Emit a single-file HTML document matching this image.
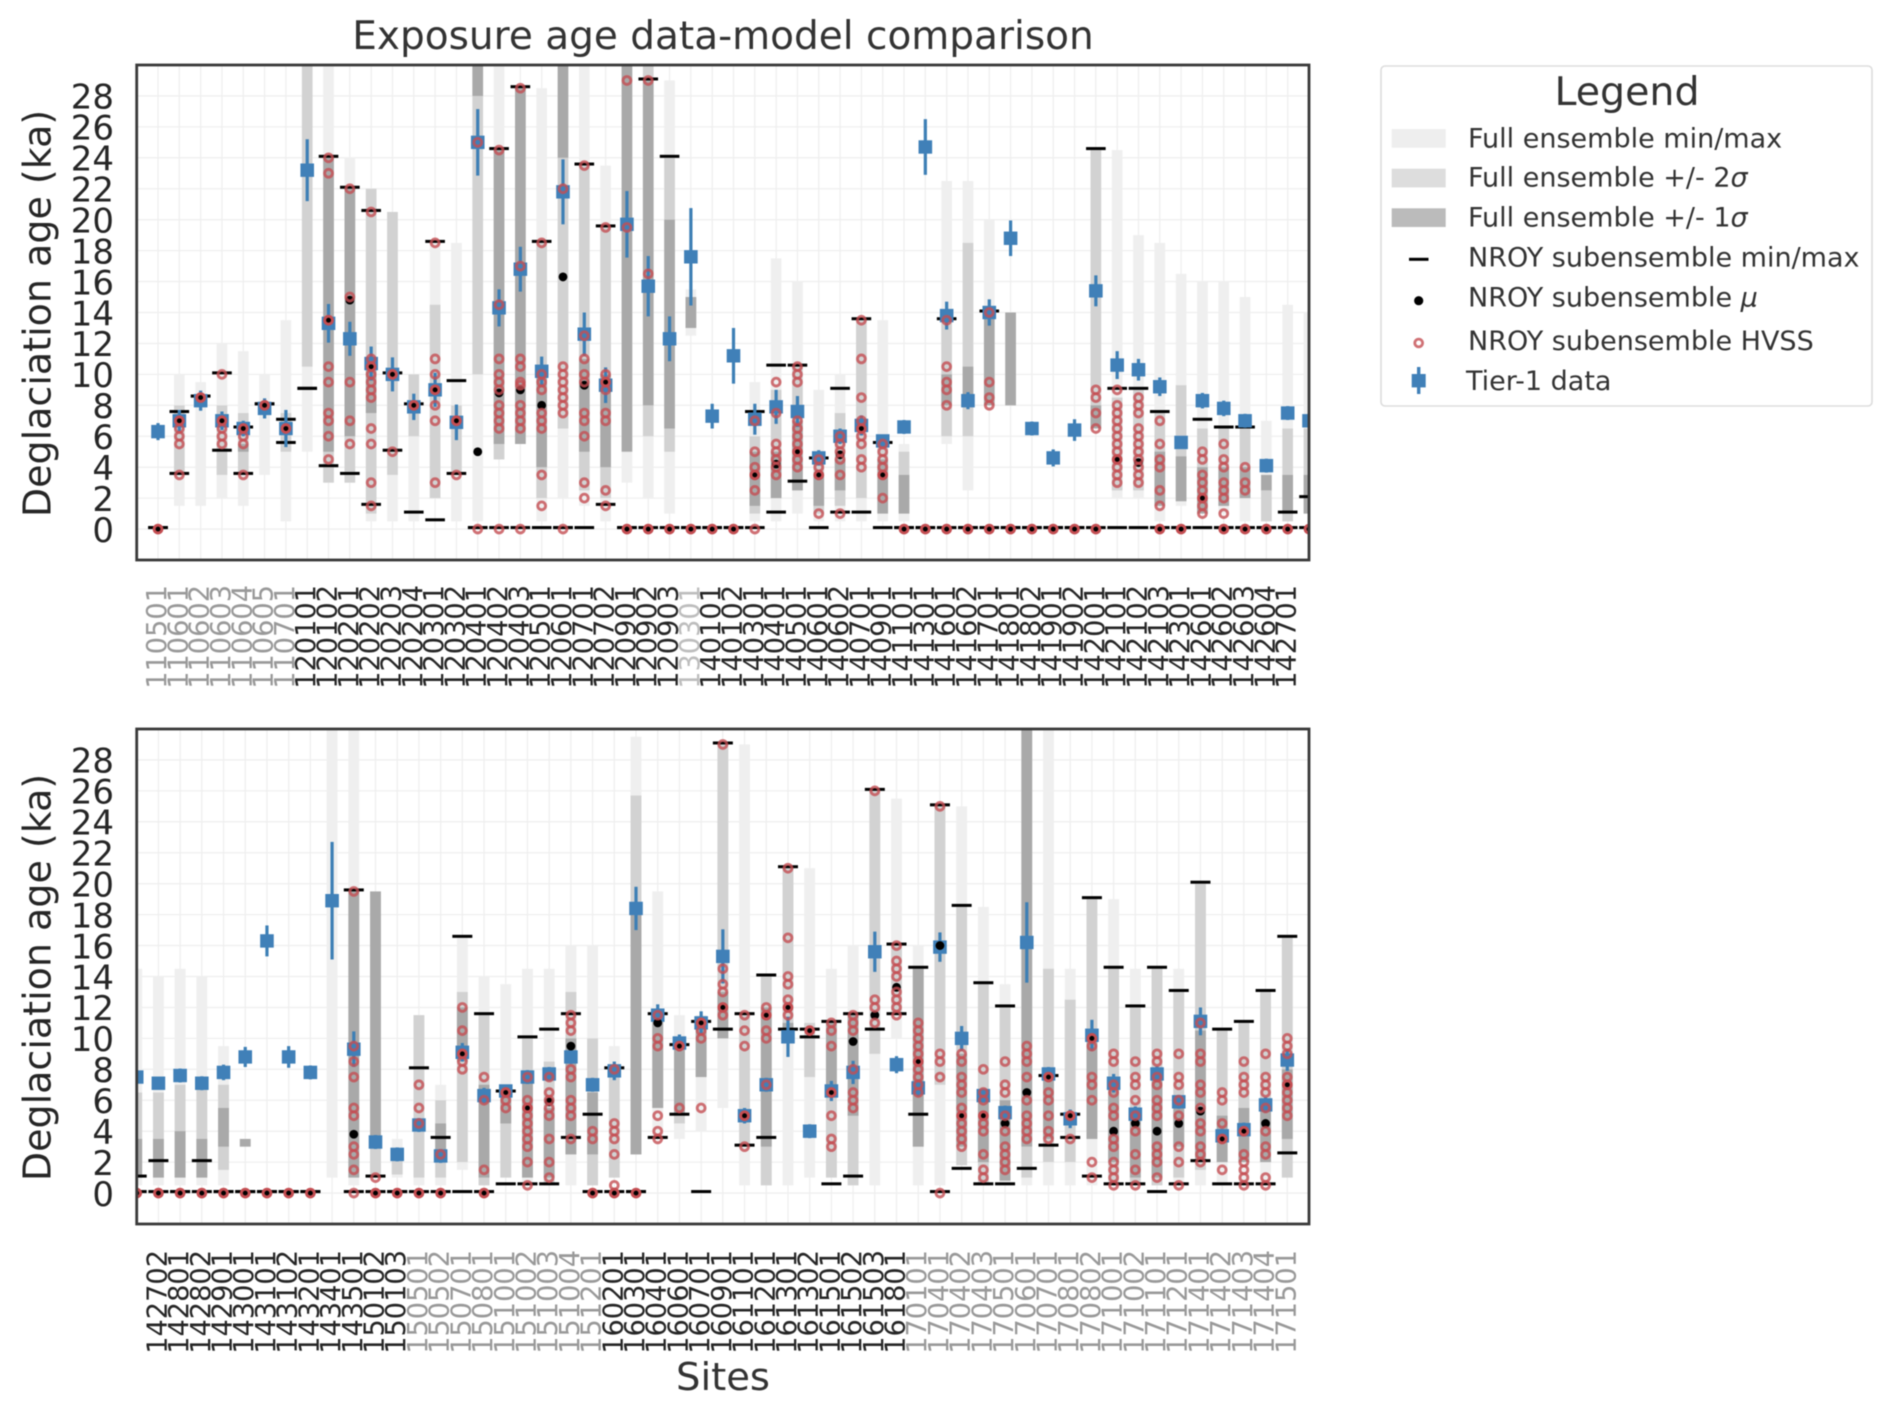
<!DOCTYPE html>
<html lang="en">
<head>
<meta charset="utf-8">
<title>Exposure age data-model comparison</title>
<style>
html,body{margin:0;padding:0;background:#fff;}
svg{display:block;font-family:"DejaVu Sans","Liberation Sans",sans-serif;filter:blur(0.6px);}
</style>
</head>
<body>
<svg id="figure" xmlns="http://www.w3.org/2000/svg" width="1892" height="1409" viewBox="0 0 1892 1409">
  <rect x="0" y="0" width="1892" height="1409" fill="#fff"/>
  <defs>
    <clipPath id="clip-top"><rect x="136.7" y="65" width="1172.3" height="495"/></clipPath>
    <clipPath id="clip-bottom"><rect x="136.7" y="729" width="1172.3" height="495"/></clipPath>
  </defs>
  <text x="723" y="49" font-size="39" text-anchor="middle" fill="#333">Exposure age data-model comparison</text>
  <text transform="translate(50.5,313.5) rotate(-90)" font-size="38" text-anchor="middle" fill="#262626">Deglaciation age (ka)</text>
  <text transform="translate(50.5,977.5) rotate(-90)" font-size="38" text-anchor="middle" fill="#262626">Deglaciation age (ka)</text>
  <text x="723" y="1390" font-size="38.5" text-anchor="middle" fill="#333">Sites</text>
  <g id="panel-top"></g>
  <g id="panel-bottom"></g>
  <g>
    <rect x="1381" y="66" width="491" height="340" rx="4" fill="#fff" stroke="#ddd" stroke-width="1.6"/>
    <text x="1627" y="105" font-size="39.5" text-anchor="middle" fill="#333">Legend</text>
    <rect x="1391.7" y="129" width="54" height="18.7" fill="#eee"/>
    <rect x="1391.7" y="168.7" width="54" height="18.7" fill="#ddd"/>
    <rect x="1391.7" y="208.3" width="54" height="18.7" fill="#bbb"/>
    <rect x="1409" y="257.8" width="19.5" height="3" fill="#000"/>
    <circle cx="1418.7" cy="300.7" r="4.6" fill="#000"/>
    <circle cx="1418.7" cy="343" r="3.9" fill="none" stroke="#c44e52" stroke-opacity="0.8" stroke-width="2.8"/>
    <rect x="1417" y="367" width="3.4" height="27" fill="#4080b8"/>
    <rect x="1411.7" y="374" width="14" height="13.4" fill="#4080b8"/>
    <g font-size="27" fill="#333">
      <text x="1468" y="147.5">Full ensemble min/max</text>
      <text x="1468" y="186.7">Full ensemble +/- 2<tspan font-style="italic">σ</tspan></text>
      <text x="1468" y="226.5">Full ensemble +/- 1<tspan font-style="italic">σ</tspan></text>
      <text x="1468" y="266.5">NROY subensemble min/max</text>
      <text x="1468" y="306.5">NROY subensemble <tspan font-style="italic">μ</tspan></text>
      <text x="1468" y="350">NROY subensemble HVSS</text>
      <text x="1466" y="390">Tier-1 data</text>
    </g>
  </g>
</svg>
<script>
const yTickValues = [0,2,4,6,8,10,12,14,16,18,20,22,24,26,28];

/* ---------- TOP PANEL (last entry has no label and sits on the right spine) ---------- */
const topSites = ["110501","110601","110602","110603","110604","110605","110701","120101","120102","120201","120202","120203","120204","120301","120302","120401","120402","120403","120501","120601","120701","120702","120901","120902","120903","130301","140101","140102","140301","140401","140501","140601","140602","140701","140901","141101","141301","141601","141602","141701","141801","141802","141901","141902","142001","142101","142102","142103","142301","142601","142602","142603","142604","142701",""];
const topGreyLevel = [1,1,1,1,1,1,1,0,0,0,0,0,0,0,0,0,0,0,0,0,0,0,0,0,0,2,0,0,0,0,0,0,0,0,0,0,0,0,0,0,0,0,0,0,0,0,0,0,0,0,0,0,0,0,0];
const topMinMaxLow = [null,1.5,1.5,2,1.5,3.5,.5,5,3,3,.5,.5,.5,2,.5,.5,4.5,5.5,.5,2,1.5,.5,3,2,1,12.5,null,null,.5,.5,1,.5,.5,.5,.5,.5,null,5.5,2.5,8,null,null,null,null,6.5,2,2,.5,1.5,1,1,.5,.5,.5,1];
const topMinMaxHigh = [null,10,9.5,12,11.5,10,13.5,31,31,24,22,20.5,10,18.5,18.5,31,31,28.5,28.5,31,31,23.5,31,31,29,15.5,null,null,9.5,17.5,16,9,10,13.5,13.5,5.5,null,22.5,22.5,20,null,null,null,null,24.5,24.5,19,18.5,16.5,16,16,15,7,14.5,14];
const top2SigmaLow = [null,3.5,null,3.5,3.5,null,5,10.5,3,3,1,3.5,6,2,3.5,10,4.5,5.5,2,6.5,2.5,2,null,6,5,13,null,null,1,2,2.5,1,1.5,2,1,1,null,6,6,8,8,null,null,null,6.5,2.5,2.5,1.5,1.8,1,1.5,2,.5,.5,1];
const top2SigmaHigh = [null,8,null,8,7.5,null,7.5,31,24,22,22,20.5,10,14.5,8,31,24.5,28.5,18.5,24,23.5,19.5,null,31,24,15,null,null,6,9,10.5,4.5,7.5,13.5,5.5,5,null,13.5,18.5,14,14,null,null,null,24.5,8.5,9,7.5,9.3,6.5,6.5,6.5,2.5,6.5,6.5];
const top1SigmaLow = [null,null,null,null,5,null,null,null,5,6,7.5,null,null,null,null,28,5.5,5.5,4,24,5,4,5,8,6.5,13,null,null,1.5,2,2.5,1.5,2.5,null,1,1,null,8,8,8,8,null,null,null,6.5,null,null,1.5,1.8,1,1.5,2,2.5,1,1];
const top1SigmaHigh = [null,null,null,null,5.5,null,null,null,24,22,10.5,null,null,null,null,31,24.5,28.5,10,31,11,10,31,29,20,15,null,null,5,5,7,3.5,4.5,null,4.5,3.5,null,10,10.5,14,14,null,null,null,8,null,null,5,4.7,4,4,4,3.5,3.5,3.5];
const topNroyMin = [0,3.5,8.5,5,3.5,8,5.5,9,4,3.5,1.5,5,1,.5,3.5,0,0,0,0,0,0,1.5,0,0,0,0,0,0,0,1,3,0,1,1,0,0,0,0,0,0,0,0,0,0,0,0,0,0,0,0,0,0,0,0,0];
const topNroyMax = [0,7.5,8.5,10,6.5,8,7,9,24,22,20.5,10,8,18.5,9.5,0,24.5,28.5,18.5,0,23.5,19.5,0,29,24,0,0,0,7.5,10.5,10.5,4.5,9,13.5,5.5,0,0,13.5,0,14,0,0,0,0,24.5,9,9,7.5,0,7,6.5,6.5,0,1,2];
const topMean = [0,7,8.5,7,6.5,8,6.5,null,13.5,14.8,10.5,10,8,9,7,5,8.8,9,8,16.3,9.3,9.5,0,0,0,0,0,0,3.5,4.2,5,3.5,4.8,6.5,3.5,0,0,0,0,0,0,0,0,0,0,4.5,4.3,0,0,2,0,0,0,0,0];
const topHvss = [
 [0],[7,6.5,6,5.5,3.5],[8.5],[10,7,6.5,6,5.5],[6.5,6,5.5,3.5],[8],[6.5],[],
 [24,23,13.5,10.5,9.5,7.5,7,6,4.5],[22,15,9.5,7,5.5],[20.5,11,10.5,10,9.5,9,8.5,6.5,5.5,3,1.5],[10,5],[8],[18.5,11,10,9,8,7,3],
 [7,3.5],[25,0],[24.5,14.5,11,10,9.5,9,8,7.5,7,6.5,0],[28.5,17,11,10.5,9.5,9.3,8,7.5,7,6.5,0],[18.5,10,9.5,9,7.5,7,6.5,3.5,1.5],[22,10.5,10,9.5,9,8.5,8,7.5,0],[23.5,12.5,11,10,9.5,7.5,7,6,3,2],[19.5,10,9.5,9,7.5,7,2.5,1.5],
 [29,19.5,0],[29,16.5,0],[0],[0],[0],[0],[7,5,4,3.5,2.5,0],[9.5,7.5,5.5,5,4.5,4,3.5],[10.5,10,9.5,7,6.5,6,5.5,5,4.5,4],[4.5,4,3.5,1],[6,5.5,5,4.5,3.5,1],[13.5,11,8.5,7,6.5,6,5.5,4.5,4],[5.5,5,4.5,4,3.5,2],[0],[0],
 [13.5,10.5,9.5,9,8,0],[0],[14,9.5,8.5,8,0],[0],[0],[0],[0],[9,8.5,7.5,6.5,0],[9,8,7.5,7,6.5,6,5.5,5,4.5,4,3.5,3],[8.5,8,7.5,6.5,6,5.5,5,4.5,4,3.5,3],[7,5.5,4.5,4,2.5,1.5,0],[0],[5,4.5,3.5,3,2.5,2,1.5,1],[5.5,4.5,4,3,2.5,2,1,0],[4,3,2.5,0],[0],[0],[0]
];
const topData = [6.3,7,8.3,7,6.5,7.8,6.5,23.2,13.3,12.3,10.7,10,7.9,9,6.9,25,14.3,16.8,10.2,21.8,12.6,9.3,19.7,15.7,12.3,17.6,7.3,11.2,7.1,7.9,7.6,4.6,6,6.7,5.7,6.6,24.7,13.8,8.3,14,18.8,6.5,4.6,6.4,15.4,10.6,10.3,9.2,5.6,8.3,7.8,7,4.1,7.5,7];
const topError = [.55,.7,.65,.6,.5,.65,1.2,2,1.25,1.1,1.1,1.1,.85,1.1,1.15,2.15,1.2,1.45,.95,2.1,1.4,1.15,2.15,1.95,1.45,3.15,.8,1.8,1,1.1,1,.5,.5,.65,.4,.45,1.8,.9,.55,.85,1.15,.45,.55,.7,1,.9,.7,.6,.4,.5,.5,.45,.45,.45,.45];

/* ---------- BOTTOM PANEL (first entry has no label and sits on the left spine) ---------- */
const bottomSites = ["","142702","142801","142802","142901","143001","143101","143102","143201","143401","143501","150102","150103","150501","150502","150701","150801","151001","151002","151003","151004","151201","160201","160301","160401","160601","160701","160901","161101","161201","161301","161302","161501","161502","161503","161801","170101","170401","170402","170403","170501","170601","170701","170801","170802","171001","171002","171101","171201","171401","171402","171403","171404","171501"];
const bottomGreyLevel = [0,0,0,0,0,0,0,0,0,0,0,0,0,1,1,1,1,1,1,1,1,1,0,0,0,0,0,0,0,0,0,0,0,0,0,0,1,1,1,1,1,1,1,1,1,1,1,1,1,1,1,1,1,1];
const bottomMinMaxLow = [.5,.5,.5,.5,.5,null,null,null,null,1,.5,1,1,.5,.5,1.5,.5,1,.5,.5,.5,.5,1,2.5,3.5,3.5,4,5.5,.5,.5,.5,1,1,.5,.5,10,.5,.5,1.8,.5,.5,.5,.5,.5,.5,.5,.5,.5,.5,.5,.5,.5,.5,1];
const bottomMinMaxHigh = [14.5,14,14.5,14,9.5,null,null,null,null,31,31,19.5,3.5,11.5,7,16.5,14,13.5,14.5,14.5,16,16,9.5,29.5,19.5,11.5,11.5,29,29,14,21,21,14.5,16,26,25.5,16,25,25,18.5,13.5,31,31,14.5,19,19,14.5,14.5,14.5,20,10.5,11,13,16.5];
const bottom2SigmaLow = [1,1,1,1,1.5,null,null,null,null,null,null,1,1.2,1,1,2,.5,1,1,.5,2.5,.5,1,2.5,5.5,4.5,7.5,10,3,.5,10.5,7.5,1,.5,9,11.5,3,7,1.8,.5,.8,1,2,2,3.5,.5,.5,.5,1,1.5,2,2,2,1];
const bottom2SigmaHigh = [6.5,6.5,7,7,7,null,null,null,null,null,null,3.5,2.5,11.5,6,13,11.5,7,10,8.5,13,10,8,25.7,11.5,10,11,29,11.5,14,21,11,11,11.5,26,16,14.5,25,18.5,13.5,12,3,14.5,12.5,19,14.5,12,14.5,13,20,10.5,11,13,16.5];
const bottom1SigmaLow = [1,1,1,1,3,3,null,null,null,null,1,3.5,null,null,2,8.5,1,4.5,1,1,2.5,2.5,null,2.5,5.5,5.2,7.5,10,null,3,10.5,null,6.5,5,null,null,3,null,3,2,.8,3,3.5,null,3.5,2,1,1,3,2,2,2,2,3.5];
const bottom1SigmaHigh = [3.5,3.5,4,3.5,5.5,3.5,null,null,null,null,19.5,19.5,null,null,4.5,12,7,7,7.5,5.5,10,6.5,null,18.5,11.5,9.5,11,13,null,12,11,null,11,11.5,null,null,14.5,null,9,6.5,6,31,7.5,null,10,7,5,7.5,5.5,10.5,5,5.5,6,8];
const bottomNroyMin = [0,0,0,0,0,0,0,0,0,null,0,0,0,0,0,0,0,.5,.5,.5,3.5,0,0,0,3.5,5,0,10.5,3,3.5,10.5,10,.5,1,10.5,11.5,5,0,1.5,.5,.5,1.5,3,3.5,1,.5,.5,0,.5,2,.5,.5,.5,2.5];
const bottomNroyMax = [1,2,0,2,0,0,0,0,0,null,19.5,1,0,8,3.5,16.5,11.5,6.5,10,10.5,11.5,5,8,0,11.5,9.5,11,29,11.5,14,21,10.5,11,11.5,26,16,14.5,25,18.5,13.5,12,null,7.5,5,19,14.5,12,14.5,13,20,10.5,11,13,16.5];
const bottomMean = [0,0,0,0,0,0,0,0,0,null,3.8,0,0,0,0,9,0,6.5,5.5,5.9,9.5,0,0,0,11,9.5,11,12,5,11.5,12,10.5,6.5,9.8,11.5,13.3,8.5,16,5,5,4.5,6.5,7.5,5,10,4,4.5,4,4.5,5.3,3.5,4,4.5,7];
const bottomHvss = [
 [0],[0],[0],[0],[0],[0],[0],[0],[0],[],
 [19.5,9.5,8.5,7.5,5.5,5,3,2.5,1.5,0],[1,0],[0],[7,5.5,4.5,0],[2.5,0],[12,10.5,9,8.5,8],[7.5,6,1.5,0],[6.5,6,5.5],
 [7.5,6,5.5,5,4.5,4,3.5,3,2,.5],[7.5,6.5,6,5.5,5,3.5,2,1],[11.5,11,10.5,8,7.5,6,5.5,5,3.5],[4,3.5,0],[8,4.5,4,3.5,2.5,.5,0],[0],[11.5,10,9.5,5,4,3.5],[9.5,5.5],[11,10.5,10,5.5],
 [29,14.5,13.5,13,12,11.5],[11.5,10.5,9.5,5,3],[12,11.5,10.5,10,7],[21,16.5,14,13.5,12.5,12,11.5],[10.5],[11,10.5,9.5,6.5,5,3.5,3],[11.5,11,10.5,8,6.5,6,5.5],[26,12.5,12,11],[16,15,14.5,14,13,12.5,12,11.5],
 [11,10.5,10,9.5,9,8.5,8,7.5,7,6.5],[25,9,8.5,7.5,0],[9,8.5,7.5,7,6.5,5.5,5,4.5,4,3.5,3],[8,6.5,6,5,4.5,4,2.5,1.5,1],[8.5,7,6.5,5,4,3,2.5,2,1.5],[9.5,9,8.5,7.5,6,5,4.5,4,3.5],[7.5,6.5,6,5,4,3.5],[5,3.5],[10,9.5,7.5,7,6,2,1],
 [9,8.5,7,6.5,5.5,5,3.5,3,2,1.5,1,.5],[8.5,7.5,7,6,5,4,2.5,1.5,.5],[9,8.5,7.5,7,6,5.5,5,3,2.5,2,1],[9,7.5,7,6,5,3,2,.5],[11,9,8.5,7,6.5,5.5,4.5,4,3,2.5,2],[6.5,6,4.5,3.5,1.5],[8.5,7.5,7,6.5,4,2.5,2,1.5,1,.5],[9,7.5,7,6.5,5.5,4,3,2.5,1,.5],[10,9.5,9,7.5,7,6.5,6,5.5,5]
];
const bottomData = [7.5,7.1,7.6,7.1,7.8,8.8,16.3,8.8,7.8,18.9,9.3,3.3,2.5,4.4,2.4,9.1,6.3,6.6,7.5,7.7,8.8,7,7.9,18.4,11.5,9.7,11,15.3,5,7,10.1,4,6.6,7.8,15.6,8.3,6.8,15.9,10,6.3,5.2,16.2,7.7,4.8,10.2,7.1,5.1,7.7,5.9,11.1,3.7,4.1,5.7,8.6];
const bottomError = [.4,.4,.45,.45,.5,.65,1,.7,.45,3.8,1.15,.45,.45,.45,.45,.6,.5,.4,.45,.45,.45,.45,.6,1.4,.7,.55,.75,1.75,.5,.45,1.3,.45,.65,.75,1.3,.55,.55,.95,.8,.45,.45,2.6,.45,.6,1,.6,.5,.5,.45,.9,.45,.45,.5,.7];

/* ---------- rendering ---------- */
const NS = "http://www.w3.org/2000/svg";
const AXIS_LEFT = 136.7, AXIS_RIGHT = 1309, AXIS_H = 495, Y_MIN = -2, Y_MAX = 30;
const BAND_COLOR = ["#efefef", "#d2d2d2", "#a9a9a9"];
const GREY_TEXT = ["#262626", "#999999", "#bdbdbd"];

function svgEl(parent, tag, attrs, text) {
  const el = document.createElementNS(NS, tag);
  for (const key in attrs) el.setAttribute(key, attrs[key]);
  if (text !== undefined) el.textContent = text;
  parent.appendChild(el);
  return el;
}

function drawPanel(root, clipId, top, firstIndex, xMax, d, labelTop) {
  const xMin = -1;
  const xScale = i => AXIS_LEFT + (i - xMin) * (AXIS_RIGHT - AXIS_LEFT) / (xMax - xMin);
  const yScale = v => top + (Y_MAX - v) * AXIS_H / (Y_MAX - Y_MIN);
  const xOf = k => xScale(k + firstIndex);
  const bottom = top + AXIS_H;

  const bg = svgEl(root, "rect", {x: AXIS_LEFT, y: top, width: AXIS_RIGHT - AXIS_LEFT, height: AXIS_H, fill: "#fff"});
  
  

  yTickValues.forEach(v => {
    const g = svgEl(root, "line", {x1: AXIS_LEFT, x2: AXIS_RIGHT, y1: yScale(v), y2: yScale(v), stroke: "#efefef", "stroke-width": 1.3});
    
    
    const t = svgEl(root, "text", {x: 114, y: yScale(v) + 12.8, "font-size": 34, "text-anchor": "end", fill: "#262626"}, String(v));
    
    
  });

  d.sites.forEach((site, k) => {
    if (!site) return;
    const x = xOf(k);
    const g = svgEl(root, "line", {x1: x, x2: x, y1: top, y2: bottom, stroke: "#efefef", "stroke-width": 1.3});
    
    
    const t = svgEl(root, "text", {transform: "translate(" + (x + 8) + "," + labelTop + ") rotate(-90)", "font-size": 27.2, "text-anchor": "end", fill: GREY_TEXT[d.grey[k]]}, site);
    
    
  });

  const marks = svgEl(root, "g", {"clip-path": "url(#" + clipId + ")"});
  
  

  const bw = 0.5 * (AXIS_RIGHT - AXIS_LEFT) / (xMax - xMin);
  const lw = 0.92 * (AXIS_RIGHT - AXIS_LEFT) / (xMax - xMin);

  d.sites.forEach((site, k) => {
    const x = xOf(k);
    [[d.lo0, d.hi0, 0, 'band-min-max'], [d.lo1, d.hi1, 1, 'band-2-sigma'], [d.lo2, d.hi2, 2, 'band-1-sigma']].forEach(b => {
      const lo = b[0][k], hi = b[1][k];
      if (lo === null || hi === null) return;
      const r = svgEl(marks, "rect", {x: x - bw / 2, y: yScale(hi), width: bw, height: yScale(lo) - yScale(hi), fill: BAND_COLOR[b[2]]});
      
      
    });
  });

  d.sites.forEach((site, k) => {
    const x = xOf(k);
    [d.nmin[k], d.nmax[k]].forEach(v => {
      if (v === null) return;
      const l = svgEl(marks, "rect", {x: x - lw / 2, y: yScale(v) - 3, width: lw, height: 3, fill: "#000"});
      
      
    });
  });

  d.sites.forEach((site, k) => {
    const x = xOf(k);
    const e = svgEl(marks, "rect", {x: x - 1.6, y: yScale(d.data[k] + d.err[k]), width: 3.2, height: yScale(d.data[k] - d.err[k]) - yScale(d.data[k] + d.err[k]), fill: "#3d7fb5"});
    
    
    const s = svgEl(marks, "rect", {x: x - 6.8, y: yScale(d.data[k]) - 6.7, width: 13.6, height: 13.4, fill: "#4080b8"});
    
    
  });

  d.sites.forEach((site, k) => {
    if (d.mean[k] === null) return;
    const c = svgEl(marks, "circle", {cx: xOf(k), cy: yScale(d.mean[k]), r: 4.4, fill: "#000"});
    
    
  });

  d.sites.forEach((site, k) => {
    d.hvss[k].forEach(v => {
      const c = svgEl(marks, "circle", {cx: xOf(k), cy: yScale(v), r: 3.9, fill: "none", stroke: "#c44e52", "stroke-width": 2.9, "stroke-opacity": v === d.mean[k] ? 1 : 0.8});
      
      
    });
  });

  const spine = svgEl(root, "rect", {x: AXIS_LEFT, y: top, width: AXIS_RIGHT - AXIS_LEFT, height: AXIS_H, fill: "none", stroke: "#3a3a3a", "stroke-width": 2.8});
  
  
}

drawPanel(document.getElementById("panel-top"), "clip-top", 65, 0, 54, {
  sites: topSites, grey: topGreyLevel,
  lo0: topMinMaxLow, hi0: topMinMaxHigh, lo1: top2SigmaLow, hi1: top2SigmaHigh, lo2: top1SigmaLow, hi2: top1SigmaHigh,
  nmin: topNroyMin, nmax: topNroyMax, mean: topMean, hvss: topHvss, data: topData, err: topError
}, 585);

drawPanel(document.getElementById("panel-bottom"), "clip-bottom", 729, -1, 53, {
  sites: bottomSites, grey: bottomGreyLevel,
  lo0: bottomMinMaxLow, hi0: bottomMinMaxHigh, lo1: bottom2SigmaLow, hi1: bottom2SigmaHigh, lo2: bottom1SigmaLow, hi2: bottom1SigmaHigh,
  nmin: bottomNroyMin, nmax: bottomNroyMax, mean: bottomMean, hvss: bottomHvss, data: bottomData, err: bottomError
}, 1250);
</script>
</body>
</html>
